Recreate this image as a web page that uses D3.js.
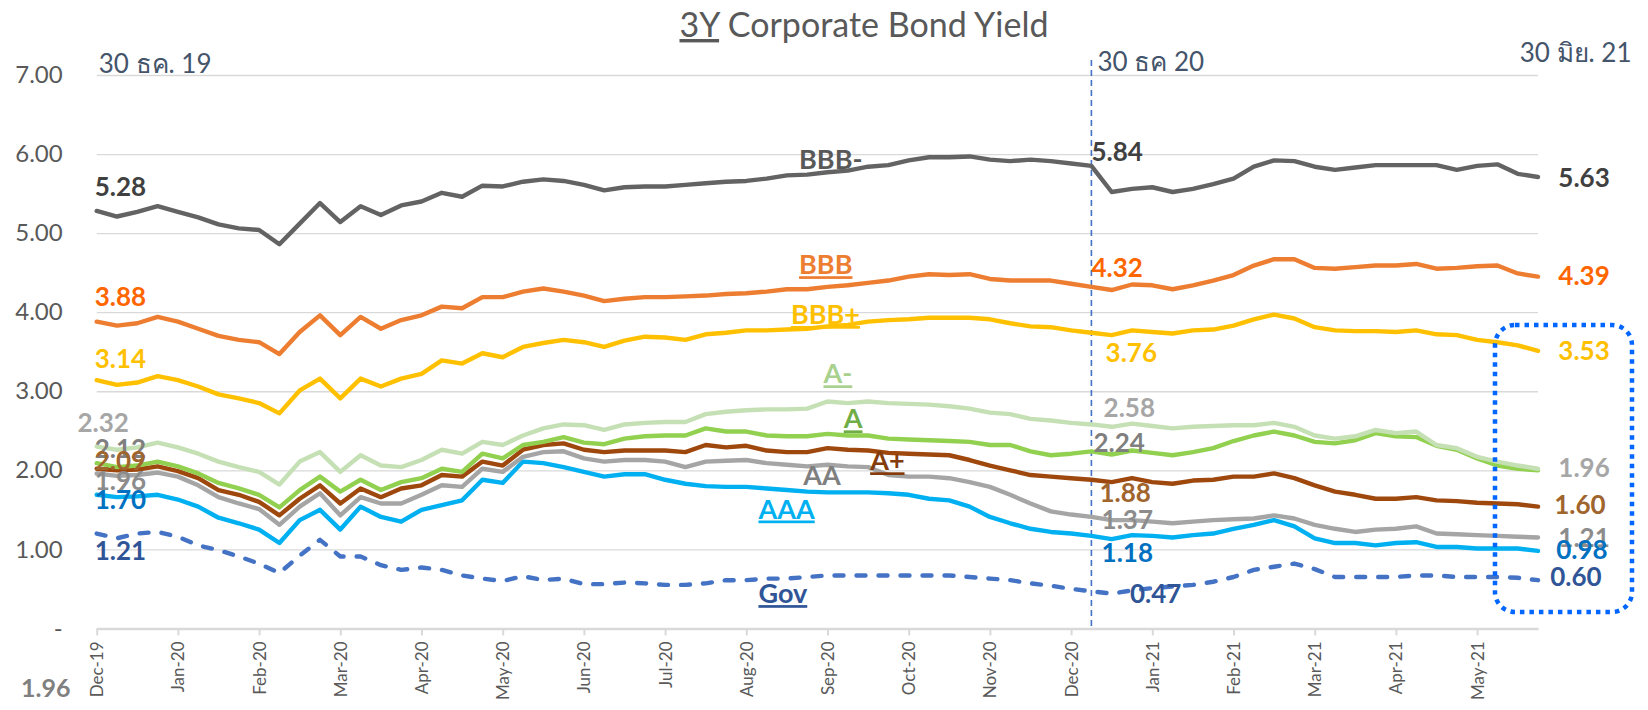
<!DOCTYPE html>
<html>
<head>
<meta charset="utf-8">
<script src="https://cdn.jsdelivr.net/npm/d3@7"></script>
<style>
  body { margin: 0; background: #fff; }
  svg { display: block; font-family: Lato, 'Open Sans', 'Noto Sans', sans-serif; }
</style>
</head>
<body>
<svg width="1648" height="710"></svg>
<script>
// month labels, one every 4 points (weekly points)
const tickLabels = ['Dec-19','Jan-20','Feb-20','Mar-20','Apr-20','May-20','Jun-20','Jul-20','Aug-20',
  'Sep-20','Oct-20','Nov-20','Dec-20','Jan-21','Feb-21','Mar-21','Apr-21','May-21'];
const yTicks = [0, 1, 2, 3, 4, 5, 6, 7];

const bbbMinus = [5.28,5.21,5.27,5.34,5.27,5.20,5.11,5.06,5.04,4.86,5.12,5.38,5.14,5.34,5.23,5.35,5.40,5.51,5.46,5.60,
  5.59,5.65,5.68,5.66,5.61,5.54,5.58,5.59,5.59,5.61,5.63,5.65,5.66,5.69,5.73,5.74,5.77,5.79,5.84,5.86,
  5.92,5.96,5.96,5.97,5.93,5.91,5.93,5.91,5.88,5.85,5.52,5.56,5.58,5.52,5.56,5.62,5.69,5.84,5.92,5.91,
  5.84,5.80,5.83,5.86,5.86,5.86,5.86,5.80,5.85,5.87,5.75,5.71];
const bbb = [3.88,3.83,3.86,3.94,3.88,3.79,3.70,3.65,3.62,3.47,3.75,3.96,3.71,3.94,3.79,3.90,3.96,4.07,4.05,4.19,
  4.19,4.26,4.30,4.26,4.21,4.14,4.17,4.19,4.19,4.20,4.21,4.23,4.24,4.26,4.29,4.29,4.32,4.34,4.37,4.40,
  4.45,4.48,4.47,4.48,4.42,4.40,4.40,4.40,4.36,4.32,4.28,4.35,4.34,4.29,4.34,4.40,4.47,4.59,4.67,4.67,
  4.56,4.55,4.57,4.59,4.59,4.61,4.55,4.56,4.58,4.59,4.49,4.45];
const bbbPlus = [3.14,3.08,3.11,3.19,3.14,3.06,2.96,2.91,2.85,2.72,3.01,3.16,2.91,3.16,3.06,3.16,3.22,3.39,3.35,3.48,
  3.43,3.56,3.61,3.65,3.62,3.56,3.64,3.69,3.68,3.65,3.72,3.74,3.77,3.77,3.78,3.79,3.82,3.84,3.88,3.90,
  3.91,3.93,3.93,3.93,3.91,3.86,3.82,3.81,3.77,3.74,3.71,3.77,3.75,3.73,3.77,3.78,3.83,3.91,3.97,3.92,
  3.81,3.77,3.76,3.76,3.75,3.77,3.72,3.71,3.65,3.62,3.58,3.51];
const aMinus = [2.30,2.26,2.29,2.35,2.29,2.21,2.11,2.04,1.98,1.82,2.11,2.23,1.98,2.19,2.06,2.04,2.13,2.26,2.21,2.36,
  2.32,2.44,2.53,2.58,2.57,2.51,2.58,2.60,2.61,2.61,2.71,2.74,2.76,2.77,2.77,2.78,2.87,2.85,2.87,2.85,
  2.84,2.83,2.81,2.78,2.73,2.71,2.65,2.63,2.60,2.58,2.55,2.59,2.56,2.53,2.55,2.56,2.57,2.57,2.60,2.55,
  2.44,2.40,2.43,2.51,2.47,2.49,2.32,2.28,2.17,2.11,2.06,2.02];
const aMid = [2.09,2.04,2.06,2.11,2.05,1.96,1.84,1.77,1.69,1.53,1.75,1.92,1.73,1.88,1.75,1.85,1.90,2.02,1.98,2.21,
  2.15,2.32,2.36,2.42,2.35,2.33,2.40,2.43,2.44,2.44,2.53,2.49,2.49,2.44,2.43,2.43,2.46,2.44,2.44,2.40,
  2.39,2.38,2.37,2.36,2.32,2.32,2.24,2.19,2.21,2.24,2.20,2.25,2.22,2.19,2.23,2.28,2.37,2.44,2.49,2.44,
  2.36,2.34,2.38,2.47,2.43,2.42,2.31,2.26,2.15,2.06,2.02,2.00];
const aPlus = [2.02,2.00,2.01,2.05,1.99,1.90,1.75,1.69,1.60,1.43,1.64,1.81,1.58,1.77,1.66,1.77,1.81,1.94,1.92,2.11,
  2.06,2.26,2.32,2.34,2.26,2.23,2.25,2.25,2.25,2.23,2.32,2.29,2.31,2.25,2.23,2.23,2.28,2.26,2.25,2.22,
  2.21,2.20,2.19,2.13,2.06,2.00,1.94,1.92,1.90,1.88,1.85,1.90,1.85,1.83,1.87,1.88,1.92,1.92,1.96,1.90,
  1.81,1.73,1.69,1.64,1.64,1.66,1.62,1.61,1.59,1.58,1.57,1.54];
const aa = [1.96,1.93,1.94,1.97,1.92,1.81,1.66,1.58,1.51,1.31,1.54,1.71,1.43,1.66,1.58,1.58,1.69,1.81,1.79,2.02,
  1.98,2.17,2.23,2.24,2.15,2.11,2.13,2.13,2.11,2.04,2.11,2.12,2.13,2.09,2.07,2.05,2.07,2.05,2.04,1.94,
  1.92,1.92,1.90,1.85,1.79,1.69,1.58,1.48,1.44,1.41,1.37,1.37,1.35,1.33,1.35,1.37,1.38,1.39,1.43,1.39,
  1.31,1.26,1.22,1.25,1.26,1.29,1.20,1.19,1.18,1.17,1.16,1.15];
const aaa = [1.69,1.66,1.67,1.69,1.63,1.54,1.40,1.33,1.25,1.08,1.37,1.50,1.25,1.54,1.41,1.35,1.50,1.56,1.62,1.88,
  1.84,2.11,2.09,2.04,1.98,1.92,1.95,1.95,1.88,1.83,1.80,1.79,1.79,1.77,1.75,1.73,1.72,1.72,1.72,1.71,
  1.69,1.64,1.62,1.54,1.41,1.33,1.26,1.22,1.20,1.17,1.13,1.18,1.17,1.15,1.18,1.20,1.26,1.31,1.37,1.29,
  1.14,1.08,1.08,1.05,1.08,1.09,1.03,1.03,1.01,1.01,1.01,0.98];
const gov = [1.20,1.14,1.20,1.22,1.16,1.05,0.99,0.91,0.82,0.70,0.92,1.12,0.91,0.91,0.80,0.74,0.77,0.74,0.67,0.63,
  0.60,0.66,0.61,0.63,0.56,0.56,0.58,0.57,0.55,0.55,0.57,0.61,0.61,0.63,0.63,0.65,0.67,0.67,0.67,0.67,
  0.67,0.67,0.67,0.65,0.63,0.61,0.57,0.54,0.50,0.47,0.44,0.48,0.51,0.53,0.55,0.59,0.65,0.74,0.78,0.82,
  0.75,0.65,0.65,0.65,0.65,0.67,0.67,0.65,0.65,0.65,0.64,0.61];

// drawing order, back to front
const series = [
  { name: 'Gov',  values: gov,      color: '#4472C4', dash: true },
  { name: 'AAA',  values: aaa,      color: '#00B0F0' },
  { name: 'AA',   values: aa,       color: '#A5A5A5' },
  { name: 'A+',   values: aPlus,    color: '#9E480E' },
  { name: 'A',    values: aMid,     color: '#92D050' },
  { name: 'A-',   values: aMinus,   color: '#C5E0B4' },
  { name: 'BBB+', values: bbbPlus,  color: '#FFC000' },
  { name: 'BBB',  values: bbb,      color: '#ED7D31' },
  { name: 'BBB-', values: bbbMinus, color: '#636363' }
];

// text labels: [text, point index, y value where the baseline sits, colour, underline]
const nameLabels = [
  ['BBB-', 34.6, 5.81, '#595959', false],
  ['BBB', 34.6, 4.48, '#ED7D31', true],
  ['BBB+', 34.2, 3.85, '#FFC000', true],
  ['A-', 35.8, 3.10, '#A9D18E', true],
  ['A', 36.8, 2.53, '#70AD47', true],
  ['A+', 38.1, 2.00, '#843C0C', true],
  ['AA', 34.8, 1.81, '#7F7F7F', false],
  ['AAA', 32.6, 1.39, '#00B0F0', true],
  ['Gov', 32.6, 0.32, '#2F5597', true]
];
const valueLabels = [
  ['5.28', -0.1, 5.47, '#404040'], ['3.88', -0.1, 4.08, '#FF6600'], ['3.14', -0.1, 3.29, '#FFC000'],
  ['2.32', -0.95, 2.48, '#A6A6A6'], ['2.12', -0.1, 2.16, '#7F7F7F'], ['2.09', -0.1, 2.00, '#A0642D'],
  ['1.96', -0.1, 1.75, '#8C8C8C'], ['1.70', -0.1, 1.51, '#0070C0'], ['1.21', -0.1, 0.86, '#2F5597'],
  ['5.84', 49.0, 5.91, '#404040'], ['4.32', 49.0, 4.44, '#FF6600'], ['3.76', 49.7, 3.37, '#FFC000'],
  ['2.58', 49.6, 2.67, '#A6A6A6'], ['2.24', 49.1, 2.23, '#7F7F7F'], ['1.88', 49.4, 1.60, '#A0642D'],
  ['1.37', 49.5, 1.26, '#8C8C8C'], ['1.18', 49.5, 0.84, '#0070C0'], ['0.47', 50.9, 0.32, '#2F5597'],
  ['5.63', 72.0, 5.58, '#404040'], ['4.39', 72.0, 4.34, '#FF6600'], ['3.53', 72.0, 3.39, '#FFC000'],
  ['1.96', 72.0, 1.91, '#A6A6A6'], ['1.60', 71.8, 1.45, '#A0642D'], ['1.21', 72.0, 1.03, '#8C8C8C'],
  ['0.98', 71.9, 0.88, '#0070C0'], ['0.60', 71.6, 0.53, '#2F5597']
];
const dateNotes = [['30 ธค. 19', 0.1, 7.02], ['30 ธค 20', 49.3, 7.05], ['30 มิย. 21', 70.1, 7.17]];
const markIndex = 49;   // 30 Dec 2020

const svg = d3.select('svg');
const n = bbbMinus.length;

const x = d3.scaleLinear().domain([0, n - 1]).range([96.7, 1538]);
const y = d3.scaleLinear().domain([0, 7]).range([628.4, 75]);

// title
const title = svg.append('text')
  .attr('x', 864).attr('y', 37)
  .attr('text-anchor', 'middle')
  .attr('font-size', 34)
  .attr('fill', '#595959');
title.append('tspan').attr('text-decoration', 'underline').text('3Y');
title.append('tspan').text(' Corporate Bond Yield');

// y axis with gridlines
const yAxisG = svg.append('g')
  .attr('transform', `translate(${x(0)},0)`)
  .call(d3.axisLeft(y)
    .tickValues(yTicks)
    .tickSize(-(x(n - 1) - x(0)))
    .tickPadding(34)
    .tickFormat(d => d === 0 ? '-' : d3.format('.2f')(d)));
yAxisG.select('.domain').remove();
yAxisG.selectAll('.tick line').attr('stroke', '#D9D9D9').attr('stroke-width', 1.3);
yAxisG.selectAll('.tick text')
  .attr('font-size', 24).attr('fill', '#595959').attr('font-family', 'Lato, sans-serif');

// x axis
const xAxisG = svg.append('g')
  .attr('transform', `translate(0,${y(0)})`)
  .call(d3.axisBottom(x)
    .tickValues(d3.range(0, tickLabels.length * 4, 4))
    .tickSizeInner(7)
    .tickSizeOuter(0)
    .tickPadding(8)
    .tickFormat(d => tickLabels[d / 4]));
xAxisG.select('.domain').attr('stroke', '#D9D9D9').attr('stroke-width', 2.5);
xAxisG.selectAll('.tick line').attr('stroke', '#D9D9D9').attr('stroke-width', 2);
xAxisG.selectAll('.tick text')
  .attr('font-size', 17).attr('fill', '#595959').attr('font-family', 'Lato, sans-serif')
  .attr('transform', 'rotate(-90)')
  .attr('text-anchor', 'end')
  .attr('x', -13).attr('y', 0).attr('dy', '0.35em');

// 30 Dec 2020 marker
svg.append('line')
  .attr('x1', x(markIndex)).attr('x2', x(markIndex))
  .attr('y1', 60).attr('y2', y(0))
  .attr('stroke', '#4472C4').attr('stroke-width', 1.6)
  .attr('stroke-dasharray', '6 4');

// series lines
const line = d3.line().x((d, i) => x(i)).y(d => y(d));
svg.append('g').selectAll('path').data(series).enter().append('path')
  .attr('d', d => line(d.values))
  .attr('fill', 'none')
  .attr('stroke', d => d.color)
  .attr('stroke-width', 4.4)
  .attr('stroke-linejoin', 'round')
  .attr('stroke-linecap', 'round')
  .attr('stroke-dasharray', d => d.dash ? '9 13' : null);

// series names
svg.append('g').selectAll('text').data(nameLabels).enter().append('text')
  .attr('x', d => x(d[1])).attr('y', d => y(d[2]))
  .attr('font-size', 27).attr('font-weight', 'bold')
  .attr('fill', d => d[3])
  .attr('text-decoration', d => d[4] ? 'underline' : null)
  .text(d => d[0]);

// value labels
svg.append('g').selectAll('text').data(valueLabels).enter().append('text')
  .attr('x', d => x(d[1])).attr('y', d => y(d[2]))
  .attr('font-size', 26).attr('font-weight', 'bold')
  .attr('fill', d => d[3])
  .text(d => d[0]);

// date notes
svg.append('g').selectAll('text').data(dateNotes).enter().append('text')
  .attr('x', d => x(d[1])).attr('y', d => y(d[2]))
  .attr('font-size', 26).attr('fill', '#44546A')
  .text(d => d[0]);

// highlight box around the latest values
svg.append('rect')
  .attr('x', 1495).attr('y', 325).attr('width', 137).attr('height', 287)
  .attr('rx', 20).attr('ry', 20)
  .attr('fill', 'none').attr('stroke', '#0066FF')
  .attr('stroke-width', 4.5).attr('stroke-dasharray', '4.5 5');

// stray label under the y axis
svg.append('text')
  .attr('x', 21).attr('y', 697)
  .attr('font-size', 25).attr('font-weight', 'bold').attr('fill', '#808080')
  .text('1.96');
</script>
</body>
</html>
